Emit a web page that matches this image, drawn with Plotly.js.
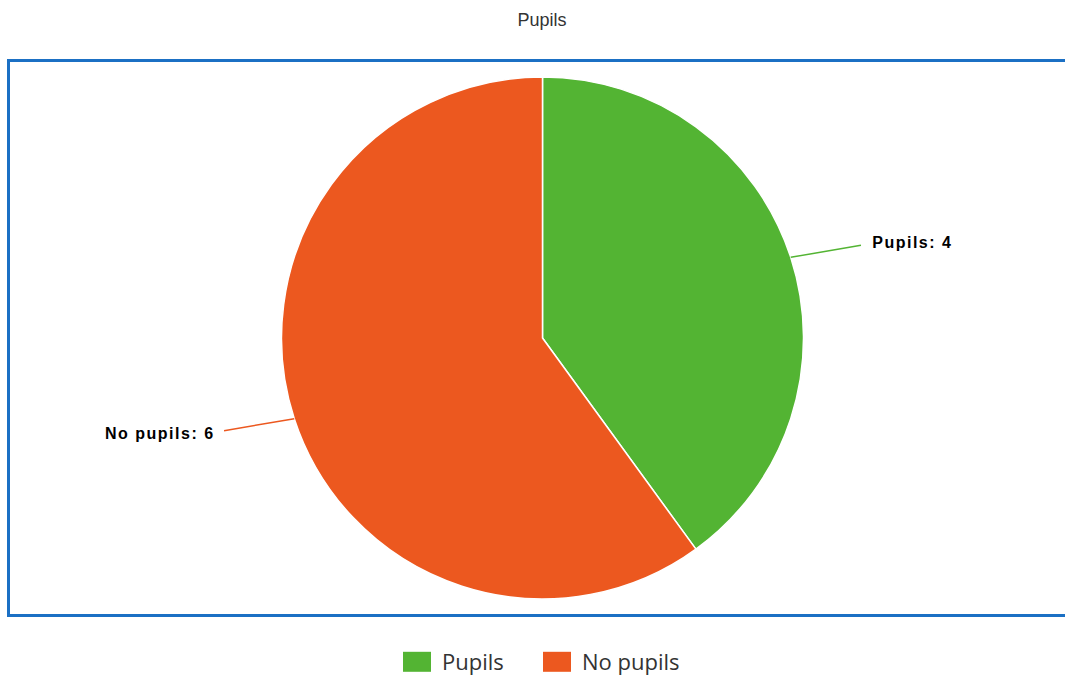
<!DOCTYPE html>
<html>
<head>
<meta charset="utf-8">
<script src="https://cdn.plot.ly/plotly-3.0.1.min.js"></script>
<style>
html,body{margin:0;padding:0;background:#fff;}
#chart{width:1065px;height:678px;}
#chart .annotation-text{letter-spacing:1.5px;}
</style>
</head>
<body>
<div id="chart"></div>
<script>
const categories = ["Pupils", "No pupils"];
const values = [4, 6];
const colors = ["#53b433", "#ec581f"];
const chartTitle = "Pupils";

const W = 1065, H = 678;
const cx = 542.5, cy = 338, r = 261;
const labelDist = 48, labelGap = 86;

const data = [{
  type: "pie",
  labels: categories,
  values: values,
  sort: false,
  direction: "clockwise",
  rotation: 0,
  marker: {colors: colors, line: {color: "#ffffff", width: 1.5}},
  textinfo: "none",
  hoverinfo: "label+value",
  domain: {x: [(cx - r) / W, (cx + r) / W], y: [(H - cy - r) / H, (H - cy + r) / H]}
}];

// outside labels with connectors, placed from the slice angles
const total = values.reduce((a, b) => a + b, 0);
let cum = 0;
const annotations = values.map((v, i) => {
  const theta = (cum + v / 2) / total * 2 * Math.PI;
  cum += v;
  const ex = cx + r * Math.sin(theta), ey = cy - r * Math.cos(theta);
  const right = Math.sin(theta) >= 0;
  return {
    xref: "paper", yref: "paper",
    x: ex / W, y: 1 - ey / H,
    ax: right ? labelGap : -labelGap,
    ay: -labelDist * Math.cos(theta),
    xanchor: right ? "left" : "right",
    yanchor: "middle",
    text: categories[i] + ": " + v,
    showarrow: true, arrowhead: 0, arrowwidth: 1.5, arrowcolor: colors[i],
    startstandoff: 16,
    font: {family: "Liberation Sans, Arial, sans-serif", size: 16, color: "#000000", weight: "bold"}
  };
});

const layout = {
  width: W, height: H,
  margin: {l: 0, r: 0, t: 0, b: 0, autoexpand: false},
  paper_bgcolor: "#ffffff",
  title: {text: chartTitle, x: 542 / W, xanchor: "center", y: 1 - 20 / H, yanchor: "middle",
          font: {family: "Liberation Sans, Arial, sans-serif", size: 18, color: "#333333"}},
  showlegend: true,
  legend: {orientation: "h", x: 542 / W, xanchor: "center", y: 1 - 662 / H, yanchor: "middle",
           font: {family: "Open Sans, sans-serif", size: 22, color: "#333333"},
           entrywidth: 95, entrywidthmode: "pixels",
           traceorder: "normal"},
  annotations: annotations,
  shapes: [{type: "rect", xref: "paper", yref: "paper",
            x0: 8.5 / W, x1: 1.02, y0: (H - 615.5) / H, y1: (H - 60.5) / H,
            line: {color: "#1b70c4", width: 3}, fillcolor: "rgba(0,0,0,0)", layer: "below"}]
};

const gd = document.getElementById("chart");
function bigLegendSymbols() {
  gd.querySelectorAll(".legend .legendpoints path").forEach(p => {
    p.setAttribute("d", "M9,10H-19V-10H9Z");
    p.style.strokeWidth = "0px";
  });
}
Plotly.newPlot(gd, data, layout, {displayModeBar: false, staticPlot: true}).then(() => {
  bigLegendSymbols();
  gd.on("plotly_afterplot", bigLegendSymbols);
});
</script>
</body>
</html>
